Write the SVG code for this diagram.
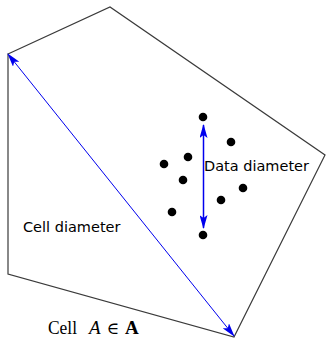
<svg xmlns="http://www.w3.org/2000/svg" width="327" height="339" viewBox="0 0 327 339">
<style>
.cell{fill:none;stroke:#3a3a3a;stroke-width:1.2}
.arr{stroke:#0000ee;fill:none}
.dot{fill:#000}
.sans{font-family:"DejaVu Sans",sans-serif;font-size:14.5px;fill:#000}
.serif{font-family:"Liberation Serif",serif;font-size:19px;fill:#000}
</style>
<defs>
<marker id="ah" viewBox="0 0 14 8" refX="13" refY="4" markerWidth="14" markerHeight="8" markerUnits="userSpaceOnUse" orient="auto-start-reverse">
<path d="M0,0 L14,4 L0,8 L3,4 Z" fill="#0000ee"/>
</marker>
</defs>
<g id="cell">
<polygon class="cell" points="8,54 110,7 325,155 234,337 8,274"/>
</g>
<g id="dots">
<circle class="dot" cx="203" cy="117" r="4.3"/>
<circle class="dot" cx="231" cy="142" r="4.3"/>
<circle class="dot" cx="188" cy="157" r="4.3"/>
<circle class="dot" cx="164" cy="164" r="4.3"/>
<circle class="dot" cx="183" cy="180" r="4.3"/>
<circle class="dot" cx="243" cy="188" r="4.3"/>
<circle class="dot" cx="221" cy="200" r="4.3"/>
<circle class="dot" cx="172" cy="212" r="4.3"/>
<circle class="dot" cx="203" cy="235" r="4.3"/>
</g>
<g id="connectors">
<line class="arr" x1="8" y1="54" x2="234" y2="336" stroke-width="1" marker-start="url(#ah)" marker-end="url(#ah)"/>
<line class="arr" x1="203.5" y1="125" x2="203.5" y2="228" stroke-width="1.5" marker-start="url(#ah)" marker-end="url(#ah)"/>
</g>
<g id="labels">
<text class="serif" x="48" y="334"><tspan textLength="29" lengthAdjust="spacingAndGlyphs">Cell</tspan><tspan x="89" font-style="italic">A</tspan><tspan x="106.5" font-family="DejaVu Serif" font-size="17px">∈</tspan><tspan x="125" font-weight="bold">A</tspan></text>
<text class="sans" x="204" y="171">Data diameter</text>
<text class="sans" x="23" y="232">Cell diameter</text>
</g>
</svg>
